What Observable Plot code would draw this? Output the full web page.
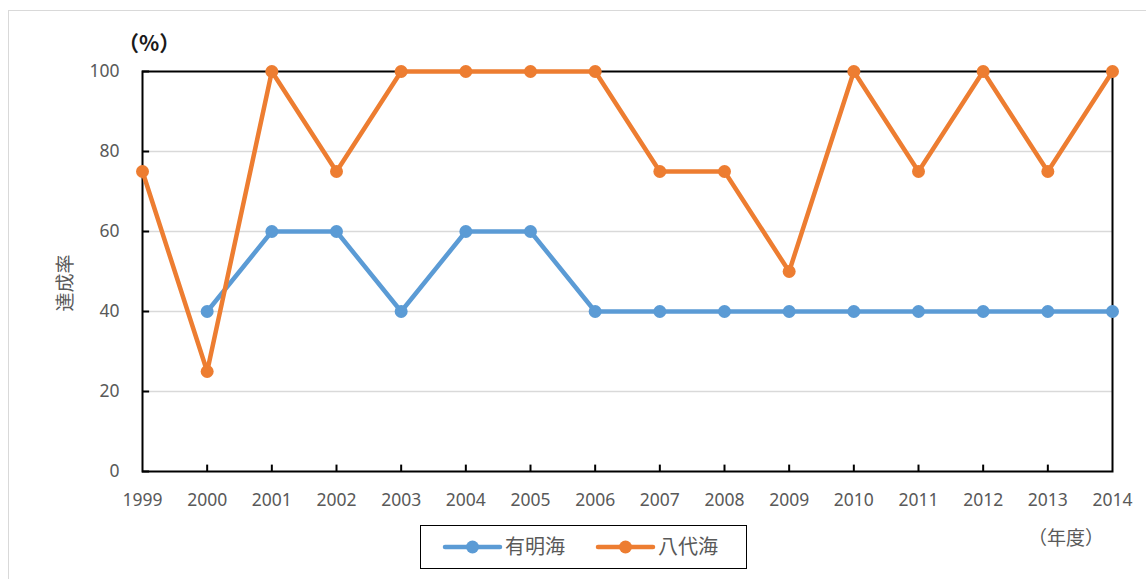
<!DOCTYPE html>
<html>
<head>
<meta charset="utf-8">
<script src="https://cdn.jsdelivr.net/npm/d3@7"></script>
<script src="https://cdn.jsdelivr.net/npm/@observablehq/plot@0.6"></script>
<style>
  html, body { margin: 0; padding: 0; background: #fff; overflow: hidden; }
  #wrap { position: relative; width: 1146px; height: 579px; font-family: "Noto Sans", "Noto Sans CJK JP", sans-serif; }
  #border { position: absolute; left: 8px; top: 10px; width: 1150px; height: 580px; border: 1.5px solid #d9d9d9; box-sizing: border-box; }
  .lbl { position: absolute; color: #595959; font-family: "Noto Sans CJK JP", "Noto Sans", sans-serif; white-space: nowrap; }
  #legend { position: absolute; left: 420px; top: 525px; width: 327px; height: 44px; border: 1.5px solid #000; box-sizing: border-box; }
  #chart { position: absolute; left: 0; top: 0; }
</style>
</head>
<body>
<div id="wrap">
  <div id="border"></div>
  <div id="chart"></div>
  <div class="lbl" style="left:118px; top:27px; font-size:21px; color:#1a1a1a; font-weight:bold;">（%）</div>
  <div class="lbl" style="left:1028px; top:523px; font-size:19px;">（年度）</div>
  <div class="lbl" style="left:63px; top:283px; font-size:19px; transform: translate(-50%,-50%) rotate(-90deg);">達成率</div>
  <div id="legend"></div>
</div>
<script>
const years = [1999,2000,2001,2002,2003,2004,2005,2006,2007,2008,2009,2010,2011,2012,2013,2014];
const ariake = [null,40,60,60,40,60,60,40,40,40,40,40,40,40,40,40];
const yatsushiro = [75,25,100,75,100,100,100,100,75,75,50,100,75,100,75,100];
const yTicks = [0,20,40,60,80,100];
const seriesNames = ["有明海","八代海"];
const colors = ["#5B9BD5","#ED7D31"];

const dA = years.map((y,i)=>({year:y, value:ariake[i]})).filter(d=>d.value!=null);
const dY = years.map((y,i)=>({year:y, value:yatsushiro[i]}));

const plot = Plot.plot({
  width: 1146,
  height: 579,
  marginLeft: 142,
  marginRight: 34,
  marginTop: 71,
  marginBottom: 108,
  style: { fontSize: "17.5px", color: "#595959", fontFamily: "'Noto Sans', sans-serif", background: "transparent" },
  x: { domain: [1999, 2014] },
  y: { domain: [0, 100] },
  marks: [
    Plot.gridY([20,40,60,80], { stroke: "#d9d9d9", strokeOpacity: 1, strokeWidth: 1.5 }),
    Plot.frame({ stroke: "#000", strokeWidth: 2 }),
    Plot.ruleX(years.slice(1,-1), { x: d=>d, y1: 0, y2: 1.6, stroke: "#000", strokeWidth: 2 }),
    Plot.ruleY(yTicks, { y: d=>d, x1: 1999, x2: 1999.11, stroke: "#000", strokeWidth: 2 }),
    Plot.axisX(years, { tickSize: 0, tickPadding: 22, tickFormat: d=>String(d), fill: "#595959", fontSize: 17.5, label: null }),
    Plot.axisY(yTicks, { tickSize: 0, tickPadding: 23, fill: "#595959", fontSize: 17.5, label: null }),
    Plot.line(dA, { x: "year", y: "value", stroke: colors[0], strokeWidth: 4.5 }),
    Plot.dot(dA, { x: "year", y: "value", r: 6.5, fill: colors[0] }),
    Plot.line(dY, { x: "year", y: "value", stroke: colors[1], strokeWidth: 4.5 }),
    Plot.dot(dY, { x: "year", y: "value", r: 6.5, fill: colors[1] })
  ]
});
document.getElementById("chart").appendChild(plot);

// Legend
const leg = d3.select("#legend").append("svg").attr("width", 324).attr("height", 41);
const offsets = [24, 177];
seriesNames.forEach((name, i) => {
  const g = leg.append("g").attr("transform", `translate(${offsets[i]},21)`);
  g.append("line").attr("x1", 0).attr("x2", 55).attr("y1", 0).attr("y2", 0).attr("stroke", colors[i]).attr("stroke-width", 4.5).attr("stroke-linecap", "round");
  g.append("circle").attr("cx", 27.5).attr("cy", 0).attr("r", 6.5).attr("fill", colors[i]);
  g.append("text").attr("x", 60).attr("y", 7).attr("font-size", 20).attr("fill", "#595959")
    .attr("font-family", "'Noto Sans CJK JP', sans-serif").text(name);
});
</script>
</body>
</html>
